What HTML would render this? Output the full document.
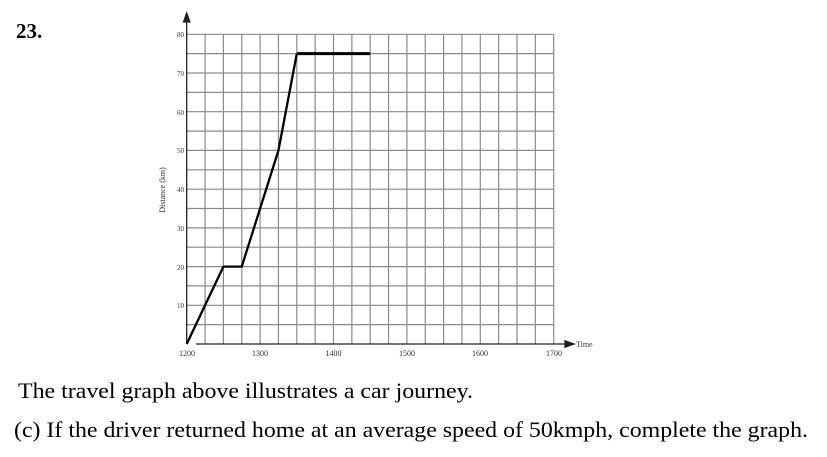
<!DOCTYPE html>
<html><head><meta charset="utf-8"><style>
html,body{margin:0;padding:0;background:#fff;}
svg{display:block;}
</style></head><body>
<svg width="827" height="457" viewBox="0 0 827 457" xmlns="http://www.w3.org/2000/svg" font-family="Liberation Serif, serif">
<text x="16" y="38" font-size="21" font-weight="bold">23.</text>
<g stroke="#8a8a8a" stroke-width="1.2">
<!-- verticals -->
<g id="v"></g>
</g>
<g stroke="#8a8a8a" stroke-width="1.2">
<line x1="205.05" y1="34.3" x2="205.05" y2="344"/><line x1="223.4" y1="34.3" x2="223.4" y2="344"/><line x1="241.75" y1="34.3" x2="241.75" y2="344"/><line x1="260.1" y1="34.3" x2="260.1" y2="344"/><line x1="278.45" y1="34.3" x2="278.45" y2="344"/><line x1="296.8" y1="34.3" x2="296.8" y2="344"/><line x1="315.15" y1="34.3" x2="315.15" y2="344"/><line x1="333.5" y1="34.3" x2="333.5" y2="344"/><line x1="351.85" y1="34.3" x2="351.85" y2="344"/><line x1="370.2" y1="34.3" x2="370.2" y2="344"/><line x1="388.55" y1="34.3" x2="388.55" y2="344"/><line x1="406.9" y1="34.3" x2="406.9" y2="344"/><line x1="425.25" y1="34.3" x2="425.25" y2="344"/><line x1="443.6" y1="34.3" x2="443.6" y2="344"/><line x1="461.95" y1="34.3" x2="461.95" y2="344"/><line x1="480.3" y1="34.3" x2="480.3" y2="344"/><line x1="498.65" y1="34.3" x2="498.65" y2="344"/><line x1="517" y1="34.3" x2="517" y2="344"/><line x1="535.35" y1="34.3" x2="535.35" y2="344"/><line x1="553.7" y1="34.3" x2="553.7" y2="344"/>
<line x1="186.7" y1="34.3" x2="553.7" y2="34.3"/><line x1="186.7" y1="53.66" x2="553.7" y2="53.66"/><line x1="186.7" y1="73.0" x2="553.7" y2="73.0"/><line x1="186.7" y1="92.4" x2="553.7" y2="92.4"/><line x1="186.7" y1="111.7" x2="553.7" y2="111.7"/><line x1="186.7" y1="131.1" x2="553.7" y2="131.1"/><line x1="186.7" y1="150.4" x2="553.7" y2="150.4"/><line x1="186.7" y1="169.8" x2="553.7" y2="169.8"/><line x1="186.7" y1="189.2" x2="553.7" y2="189.2"/><line x1="186.7" y1="208.5" x2="553.7" y2="208.5"/><line x1="186.7" y1="227.9" x2="553.7" y2="227.9"/><line x1="186.7" y1="247.2" x2="553.7" y2="247.2"/><line x1="186.7" y1="266.6" x2="553.7" y2="266.6"/><line x1="186.7" y1="285.9" x2="553.7" y2="285.9"/><line x1="186.7" y1="305.3" x2="553.7" y2="305.3"/><line x1="186.7" y1="324.6" x2="553.7" y2="324.6"/>
</g>
<g stroke="#222" stroke-width="1.3" fill="#222">
<line x1="186.7" y1="344" x2="186.7" y2="20"/>
<polygon points="186.7,13 183.5,22 189.9,22"/>
<line x1="196" y1="344" x2="566" y2="344"/>
<polygon points="574,344 565,340.8 565,347.2"/>
</g>
<g font-size="7" fill="#333" text-anchor="end">
<text x="184" y="37">80</text><text x="184" y="76">70</text><text x="184" y="115">60</text><text x="184" y="153">50</text><text x="184" y="192">40</text><text x="184" y="231">30</text><text x="184" y="270">20</text><text x="184" y="308">10</text>
</g>
<g font-size="8" fill="#333" text-anchor="middle">
<text x="187" y="356">1200</text><text x="260" y="356">1300</text><text x="333.5" y="356">1400</text><text x="407" y="356">1500</text><text x="480" y="356">1600</text><text x="554" y="356">1700</text>
</g>
<text x="576" y="347" font-size="8" fill="#333">Time</text>
<text transform="translate(165,190) rotate(-90)" font-size="8" fill="#333" text-anchor="middle">Distance (km)</text>
<polyline points="186.7,344 223.4,266.6 241.75,266.6 278.45,150.4 296.8,53.66" fill="none" stroke="#000" stroke-width="2.3" stroke-linejoin="round"/>
<line x1="296.8" y1="53.66" x2="370.2" y2="53.66" stroke="#000" stroke-width="3"/>
<text x="18" y="398" font-size="22" textLength="455" lengthAdjust="spacingAndGlyphs">The travel graph above illustrates a car journey.</text>
<text x="14" y="437" font-size="22" textLength="794" lengthAdjust="spacingAndGlyphs">(c) If the driver returned home at an average speed of 50kmph, complete the graph.</text>
</svg>
</body></html>
